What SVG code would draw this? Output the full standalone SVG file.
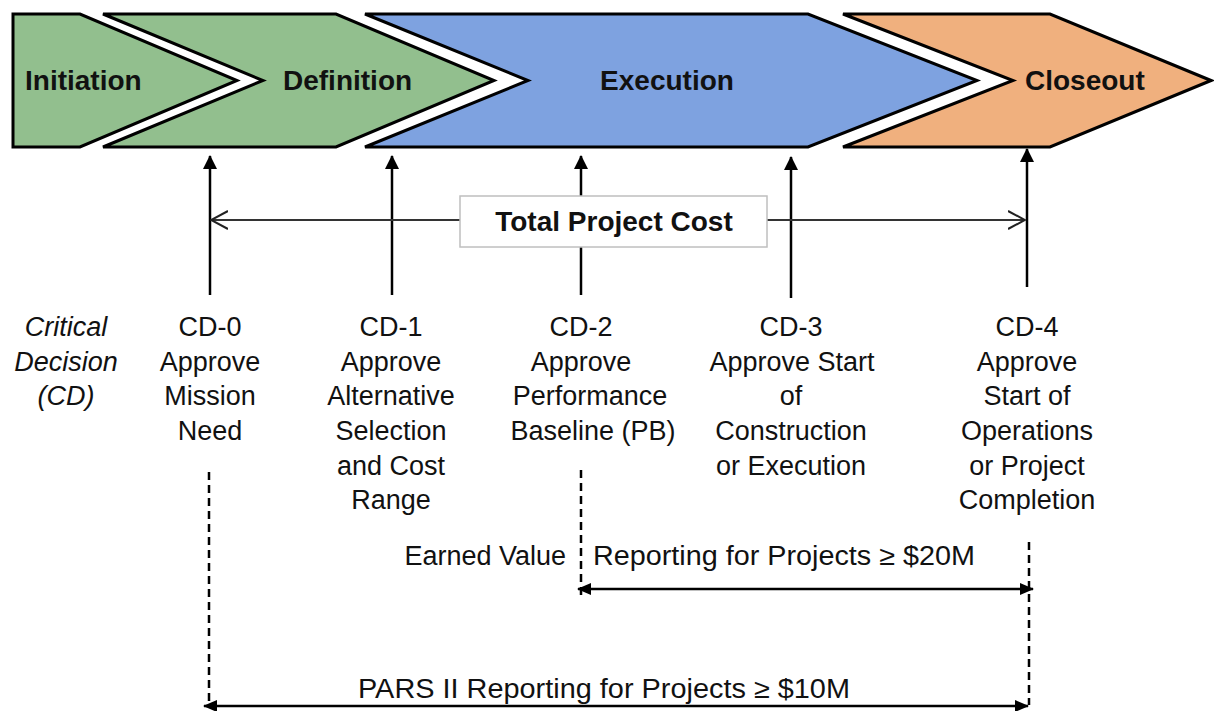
<svg xmlns="http://www.w3.org/2000/svg" width="1214" height="711" viewBox="0 0 1214 711">
  <style>
    .chev { stroke: #000; stroke-width: 3; stroke-linejoin: miter; }
    .phase { font-family: "Liberation Sans", Arial, sans-serif; font-weight: bold; font-size: 28px; fill: #111; }
    .lbl { font-family: "Liberation Sans", Arial, sans-serif; font-size: 27px; fill: #111; text-anchor: middle; }
    .ital { font-style: italic; }
    .up { stroke: #000; stroke-width: 2.5; fill: none; }
    .dash { stroke: #000; stroke-width: 2.5; stroke-dasharray: 8 5; fill: none; }
    .span { stroke: #000; stroke-width: 2.5; fill: none; }
    .tpc { stroke: #333; stroke-width: 2; fill: none; }
    .head { fill: #000; }
  </style>
  <defs>
    <marker id="tri" viewBox="0 0 14 14" refX="13" refY="7" markerWidth="14" markerHeight="14" markerUnits="userSpaceOnUse" orient="auto-start-reverse">
      <path d="M0,0 L14,7 L0,14 Z" class="head"/>
    </marker>
    <marker id="tri2" viewBox="0 0 14 12" refX="13" refY="6" markerWidth="14" markerHeight="12" markerUnits="userSpaceOnUse" orient="auto-start-reverse">
      <path d="M0,0 L14,6 L0,12 Z" class="head"/>
    </marker>
    <marker id="open" viewBox="0 0 18 20" refX="17" refY="10" markerWidth="18" markerHeight="20" markerUnits="userSpaceOnUse" orient="auto-start-reverse">
      <path d="M0,1 L17,10 L0,19" fill="none" stroke="#222" stroke-width="2"/>
    </marker>
  </defs>

  <g id="initiation">
    <path class="chev" fill="#92BF8E" d="M13,14 L80,14 L237,80.5 L80,147 L13,147 Z"/>
    <text class="phase" x="25" y="90">Initiation</text>
  </g>
  <g id="definition">
    <path class="chev" fill="#92BF8E" d="M103,14 L336,14 L494,80.5 L336,147 L103,147 L263,80.5 Z"/>
    <text class="phase" x="283" y="90">Definition</text>
  </g>
  <g id="execution">
    <path class="chev" fill="#7EA2E0" d="M365,14 L808,14 L977,80.5 L808,147 L365,147 L528,80.5 Z"/>
    <text class="phase" x="667" y="90" text-anchor="middle">Execution</text>
  </g>
  <g id="closeout">
    <path class="chev" fill="#F0B07E" d="M843,14 L1050,14 L1211,80.5 L1050,147 L843,147 L1013,80.5 Z"/>
    <text class="phase" x="1025" y="90">Closeout</text>
  </g>

  <g id="connectors">
    <line class="up" x1="210" y1="295" x2="210" y2="156" marker-end="url(#tri)"/>
    <line class="up" x1="392" y1="295" x2="392" y2="156" marker-end="url(#tri)"/>
    <line class="up" x1="581" y1="295" x2="581" y2="156" marker-end="url(#tri)"/>
    <line class="up" x1="791" y1="298" x2="791" y2="157" marker-end="url(#tri)"/>
    <line class="up" x1="1027" y1="287" x2="1027" y2="149" marker-end="url(#tri)"/>
    <line class="tpc" x1="211" y1="220" x2="1025" y2="220" marker-start="url(#open)" marker-end="url(#open)"/>
    <line class="dash" x1="209" y1="472" x2="209" y2="705"/>
    <line class="dash" x1="581" y1="470" x2="581" y2="596"/>
    <line class="dash" x1="1029" y1="542" x2="1029" y2="705"/>
    <line class="span" x1="578" y1="589" x2="1033" y2="589" marker-start="url(#tri2)" marker-end="url(#tri2)"/>
    <line class="span" x1="204" y1="706" x2="1028" y2="706" marker-start="url(#tri2)" marker-end="url(#tri2)"/>
  </g>

  <g id="total-project-cost">
    <rect x="460" y="196" width="307" height="51" fill="#fff" stroke="#bfbfbf" stroke-width="1.5"/>
    <text class="phase" x="614" y="231" text-anchor="middle">Total Project Cost</text>
  </g>

  <g id="cd-label">
    <text class="lbl ital" x="66" y="336">Critical</text>
    <text class="lbl ital" x="66" y="371">Decision</text>
    <text class="lbl ital" x="66" y="405">(CD)</text>
  </g>
  <g id="cd0">
    <text class="lbl" x="210" y="336">CD-0</text>
    <text class="lbl" x="210" y="371">Approve</text>
    <text class="lbl" x="210" y="405">Mission</text>
    <text class="lbl" x="210" y="440">Need</text>
  </g>
  <g id="cd1">
    <text class="lbl" x="391" y="336">CD-1</text>
    <text class="lbl" x="391" y="371">Approve</text>
    <text class="lbl" x="391" y="405">Alternative</text>
    <text class="lbl" x="391" y="440">Selection</text>
    <text class="lbl" x="391" y="475">and Cost</text>
    <text class="lbl" x="391" y="509">Range</text>
  </g>
  <g id="cd2">
    <text class="lbl" x="581" y="336">CD-2</text>
    <text class="lbl" x="581" y="371">Approve</text>
    <text class="lbl" x="590" y="405">Performance</text>
    <text class="lbl" x="593" y="440">Baseline (PB)</text>
  </g>
  <g id="cd3">
    <text class="lbl" x="791" y="336">CD-3</text>
    <text class="lbl" x="792" y="371">Approve Start</text>
    <text class="lbl" x="791" y="405">of</text>
    <text class="lbl" x="791" y="440">Construction</text>
    <text class="lbl" x="791" y="475">or Execution</text>
  </g>
  <g id="cd4">
    <text class="lbl" x="1027" y="336">CD-4</text>
    <text class="lbl" x="1027" y="371">Approve</text>
    <text class="lbl" x="1027" y="405">Start of</text>
    <text class="lbl" x="1027" y="440">Operations</text>
    <text class="lbl" x="1027" y="475">or Project</text>
    <text class="lbl" x="1027" y="509">Completion</text>
  </g>

  <g id="earned-value">
    <text class="lbl" x="566" y="565" style="text-anchor:end">Earned Value</text>
    <text class="lbl" x="593" y="565" style="text-anchor:start" textLength="382" lengthAdjust="spacingAndGlyphs">Reporting for Projects ≥ $20M</text>
  </g>
  <g id="pars">
    <text class="lbl" x="358" y="698" style="text-anchor:start" textLength="492" lengthAdjust="spacingAndGlyphs">PARS II Reporting for Projects ≥ $10M</text>
  </g>
</svg>
